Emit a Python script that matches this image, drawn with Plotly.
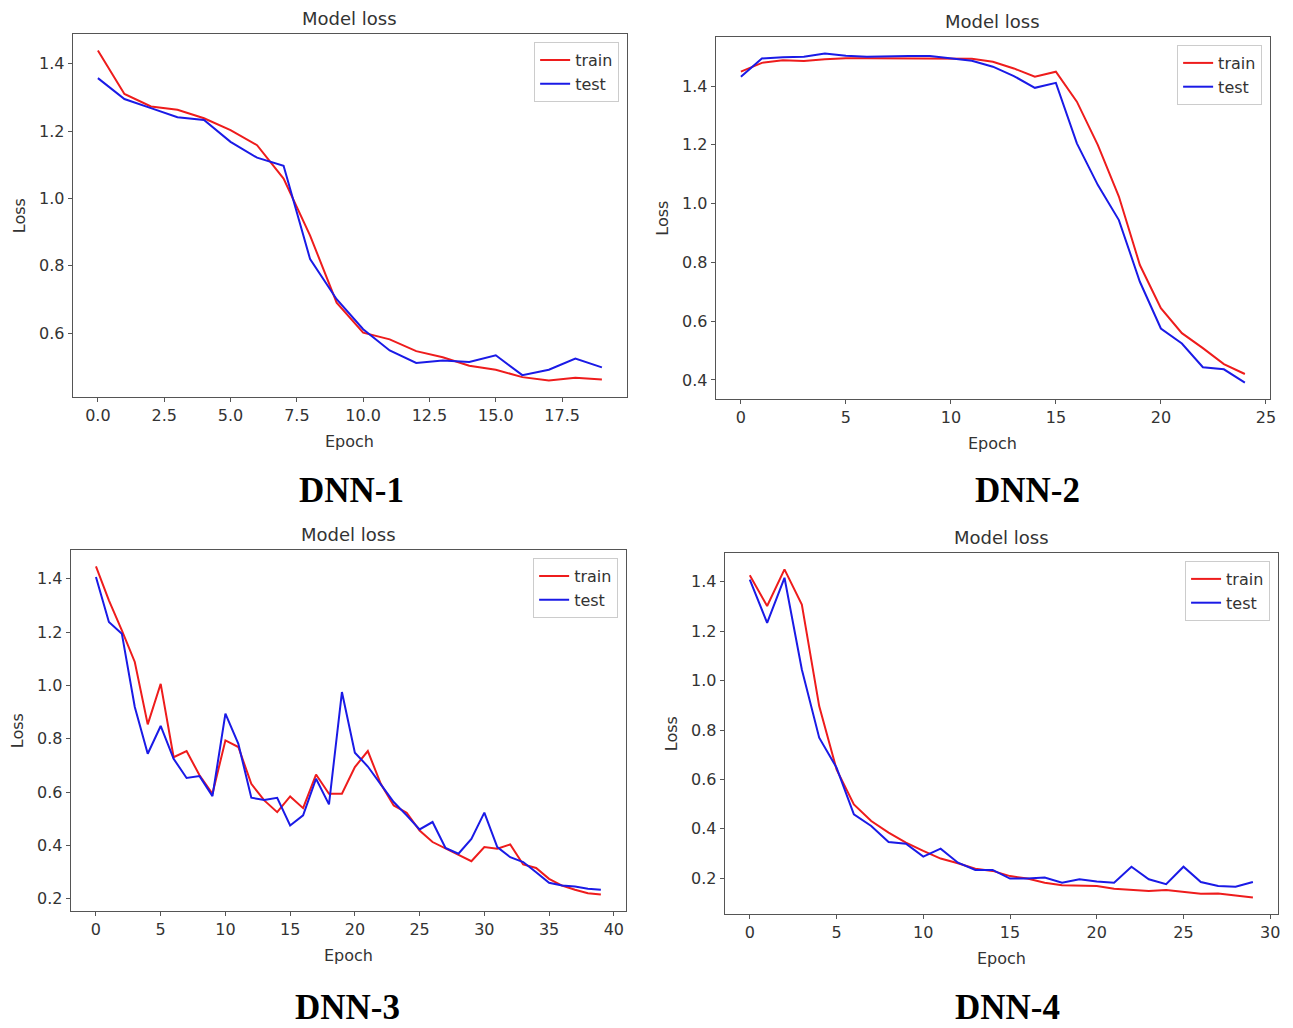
import plotly.graph_objects as go

# page body has an 8px margin, so the figure is shrunk and every pixel
# position below is measured on the full 1293x1028 screenshot
PAGE_PAD = 8
FW, FH = 1293 - PAGE_PAD, 1028 - PAGE_PAD

# ---- data ----
train_1 = [1.439, 1.310, 1.273, 1.263, 1.238, 1.203, 1.158, 1.059, 0.890, 0.691,
           0.602, 0.582, 0.547, 0.529, 0.504, 0.492, 0.470, 0.460, 0.468, 0.463]
test_1 = [1.357, 1.295, 1.268, 1.241, 1.233, 1.168, 1.121, 1.097, 0.820, 0.701,
          0.612, 0.549, 0.512, 0.519, 0.515, 0.535, 0.476, 0.492, 0.525, 0.499]

train_2 = [1.449, 1.479, 1.488, 1.485, 1.491, 1.495, 1.495, 1.495, 1.495, 1.494,
           1.493, 1.493, 1.483, 1.460, 1.432, 1.449, 1.347, 1.199, 1.024, 0.791,
           0.644, 0.559, 0.508, 0.454, 0.420]
test_2 = [1.432, 1.494, 1.498, 1.500, 1.511, 1.503, 1.500, 1.502, 1.502, 1.502,
          1.493, 1.486, 1.466, 1.434, 1.394, 1.411, 1.205, 1.063, 0.944, 0.734,
          0.575, 0.524, 0.443, 0.436, 0.391]

train_3 = [1.446, 1.319, 1.206, 1.088, 0.854, 1.006, 0.731, 0.754, 0.663, 0.594,
           0.794, 0.769, 0.631, 0.569, 0.525, 0.584, 0.540, 0.666, 0.594, 0.594,
           0.694, 0.754, 0.631, 0.550, 0.523, 0.456, 0.413, 0.388, 0.366, 0.341,
           0.394, 0.388, 0.404, 0.329, 0.316, 0.275, 0.250, 0.234, 0.221, 0.216]
test_3 = [1.406, 1.238, 1.194, 0.919, 0.744, 0.848, 0.725, 0.653, 0.660, 0.585,
          0.894, 0.781, 0.579, 0.571, 0.579, 0.475, 0.513, 0.650, 0.554, 0.975,
          0.748, 0.696, 0.629, 0.563, 0.513, 0.460, 0.488, 0.391, 0.369, 0.425,
          0.523, 0.394, 0.356, 0.338, 0.300, 0.260, 0.250, 0.246, 0.238, 0.234]

train_4 = [1.426, 1.302, 1.450, 1.308, 0.897, 0.641, 0.499, 0.432, 0.385, 0.344,
           0.311, 0.280, 0.261, 0.239, 0.230, 0.209, 0.199, 0.182, 0.172, 0.169,
           0.169, 0.158, 0.153, 0.149, 0.153, 0.145, 0.138, 0.139, 0.131, 0.122]
test_4 = [1.409, 1.234, 1.416, 1.045, 0.769, 0.648, 0.459, 0.412, 0.347, 0.340,
          0.288, 0.320, 0.263, 0.234, 0.234, 0.199, 0.199, 0.203, 0.182, 0.196,
          0.187, 0.182, 0.247, 0.196, 0.176, 0.247, 0.185, 0.169, 0.166, 0.185]

labels = ['DNN-1', 'DNN-2', 'DNN-3', 'DNN-4']
series = [(train_1, test_1), (train_2, test_2), (train_3, test_3), (train_4, test_4)]
x_dticks = [2.5, 5, 5, 5]
x_formats = ['.1f', 'd', 'd', 'd']

# ---- panel geometry in screenshot pixels: (left, top, right, bottom), caption centre ----
boxes = [(73, 34, 630, 397), (719, 37, 1276, 399),
         (71, 550, 629, 911), (728, 553, 1284, 914)]
captions = [(353, 490), (1032, 490), (349, 1007), (1012, 1007)]


def fx(px):
    return (px - PAGE_PAD) / FW


def fy(py):
    return 1 - (py - PAGE_PAD) / FH


TEXT = '#333333'
FRAME = '#555555'
FONT = 'DejaVu Sans'

fig = go.Figure()
annotations = []
layout = {}

for i, (label, (train, test)) in enumerate(zip(labels, series)):
    n = i + 1
    sfx = '' if n == 1 else str(n)
    epochs = list(range(len(train)))
    legend_name = 'legend' + sfx

    fig.add_trace(go.Scatter(x=epochs, y=train, mode='lines', name='train',
                             line=dict(color='#ee1c1c', width=2),
                             xaxis='x' + sfx, yaxis='y' + sfx, legend=legend_name))
    fig.add_trace(go.Scatter(x=epochs, y=test, mode='lines', name='test',
                             line=dict(color='#1a1ae6', width=2),
                             xaxis='x' + sfx, yaxis='y' + sfx, legend=legend_name))

    # matplotlib style 5% margins
    lo = min(min(train), min(test))
    hi = max(max(train), max(test))
    pad = 0.05 * (hi - lo)
    xmax = len(train) - 1
    left, top, right, bottom = boxes[i]

    common = dict(showline=True, mirror=True, linecolor=FRAME, linewidth=1,
                  showgrid=False, zeroline=False, ticks='outside', ticklen=4,
                  tickcolor=FRAME, tickfont=dict(family=FONT, size=16, color=TEXT))
    layout['xaxis' + sfx] = dict(common, domain=[fx(left), fx(right)],
                                 range=[-0.05 * xmax, 1.05 * xmax],
                                 tick0=0, dtick=x_dticks[i], tickformat=x_formats[i],
                                 anchor='y' + sfx)
    layout['yaxis' + sfx] = dict(common, domain=[fy(bottom), fy(top)],
                                 range=[lo - pad, hi + pad],
                                 tick0=0, dtick=0.2, tickformat='.1f',
                                 anchor='x' + sfx)
    layout[legend_name] = dict(x=fx(right - 8), y=fy(top + 8),
                               xanchor='right', yanchor='top',
                               bgcolor='rgba(255,255,255,0.85)',
                               bordercolor='#cccccc', borderwidth=1,
                               font=dict(family=FONT, size=16, color=TEXT))

    xd, yd = 'x' + sfx + ' domain', 'y' + sfx + ' domain'
    annotations.append(dict(text='Model loss', x=0.5, y=1, xref=xd, yref=yd,
                            xanchor='center', yanchor='bottom', yshift=3, showarrow=False,
                            font=dict(family=FONT, size=18, color=TEXT)))
    annotations.append(dict(text='Epoch', x=0.5, y=0, xref=xd, yref=yd,
                            xanchor='center', yanchor='top', yshift=-33, showarrow=False,
                            font=dict(family=FONT, size=16, color=TEXT)))
    annotations.append(dict(text='Loss', x=0, y=0.5, xref=xd, yref=yd, textangle=-90,
                            xanchor='center', yanchor='middle', xshift=-53, showarrow=False,
                            font=dict(family=FONT, size=16, color=TEXT)))
    cx, cy = captions[i]
    annotations.append(dict(text='<b>' + label + '</b>', x=fx(cx), y=fy(cy),
                            xref='paper', yref='paper', xanchor='center', yanchor='middle',
                            showarrow=False,
                            font=dict(family='Liberation Serif', size=35, color='black')))

fig.update_layout(width=FW, height=FH, margin=dict(l=0, r=0, t=0, b=0),
                  paper_bgcolor='white', plot_bgcolor='white',
                  showlegend=True, annotations=annotations, **layout)

fig.write_html('out.html')
